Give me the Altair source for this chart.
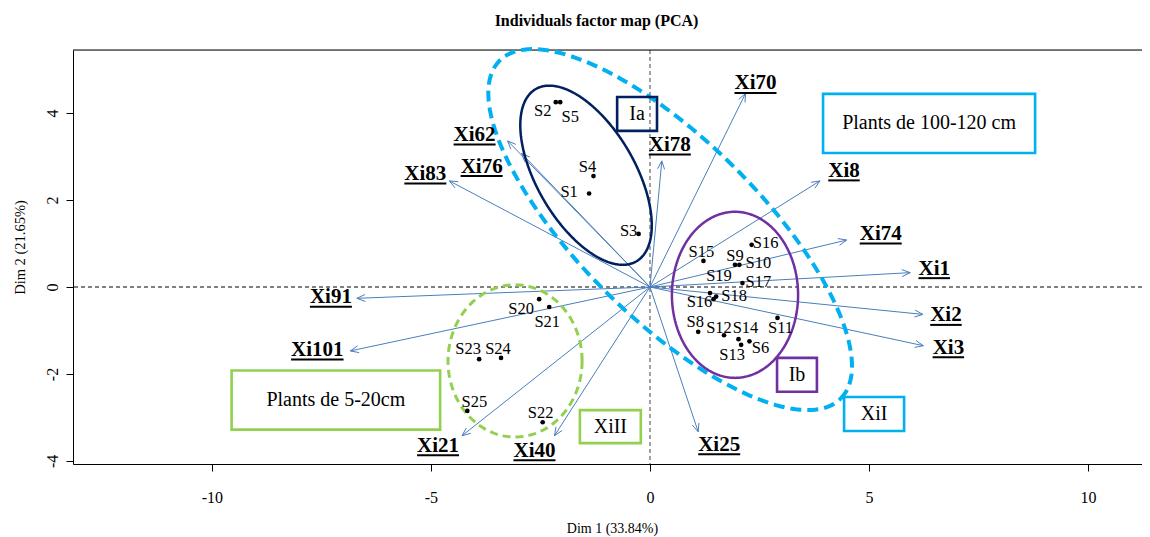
import altair as alt
import pandas as pd

# ---------------- data ----------------
ind_names = ["S1", "S2", "S3", "S4", "S5", "S6", "S8", "S9", "S10", "S11", "S12", "S13",
             "S14", "S15", "S16", "S16", "S17", "S18", "S19", "S20", "S21", "S22", "S23",
             "S24", "S25"]
ind_dim1 = [-1.39, -2.15, -0.26, -1.29, -2.05, 2.27, 1.10, 1.94, 2.04, 2.91, 1.69, 2.08,
            2.02, 1.22, 2.32, 1.45, 2.11, 1.51, 1.37, -2.53, -2.30, -2.45, -3.90,
            -3.40, -4.17]
ind_dim2 = [2.15, 4.25, 1.22, 2.55, 4.25, -1.25, -1.03, 0.51, 0.51, -0.71, -1.11, -1.33,
            -1.20, 0.60, 0.97, -0.28, 0.09, -0.22, -0.14, -0.28, -0.46, -3.11, -1.66,
            -1.63, -2.85]

var_names = ["Xi70", "Xi8", "Xi74", "Xi1", "Xi2", "Xi3", "Xi25", "Xi40", "Xi21", "Xi101",
             "Xi91", "Xi83", "Xi62", "Xi76", "Xi78"]
var_dim1 = [2.18, 3.88, 4.49, 5.94, 6.23, 6.24, 1.10, -2.18, -4.29, -6.84, -6.69, -4.58,
            -3.25, -2.93, 0.27]
var_dim2 = [4.45, 2.44, 1.08, 0.33, -0.63, -1.35, -3.33, -3.42, -3.42, -1.47, -0.26, 2.44,
            3.36, 3.07, 2.90]

ell_names = ["XiI", "Ia", "Ib", "XiII"]
ell_cx = [0.46, -1.46, 1.94, -3.08]
ell_cy = [1.32, 2.57, -0.18, -1.70]
ell_a = [5.50, 2.29, 1.44, 1.53]
ell_b = [2.05, 1.12, 1.91, 1.75]
ell_angle = [-45.0, -60.0, 0.0, 0.0]

box_labels = ["Ia", "Plants de 100-120 cm", "Ib", "XiI", "Plants de 5-20cm", "XiII"]
box_x1 = [-0.75, 3.95, 2.90, 4.43, -9.55, -1.60]
box_x2 = [0.16, 8.79, 3.81, 5.80, -4.79, -0.21]
box_y1 = [3.59, 3.08, -2.41, -3.31, -3.28, -3.59]
box_y2 = [4.37, 4.44, -1.63, -2.53, -1.92, -2.83]

# ---------------- layout / style ----------------
W, H = 1069, 414
XMIN, XMAX = -13.17, 11.23
YMIN, YMAX = -4.07, 5.45
PX_X = W / (XMAX - XMIN)
PX_Y = H / (YMAX - YMIN)
FONT = "Liberation Serif"

# label offsets in pixels (dx right, dy down) from the point to the label baseline centre
ind_label_off = [(-20, 3), (-13, 14), (-10, 2), (-6, -4), (10, 20), (11, 12), (-3, -5),
                 (0, -4), (19, 3), (3, 15), (-5, -2), (-9, 15), (7, -6), (-2, -4),
                 (14, 3), (-14, 8), (16, 4), (18, 4), (9, -12), (-18, 15), (-2, 20),
                 (-2, -4), (-11, -5), (-3, -4), (7, -4)]
var_label_off = [(10, -4), (24, -4), (34, 0), (24, 2), (23, 7), (25, 8), (21, 19),
                 (-20, 21), (-24, 16), (-33, 5), (-26, 5), (-24, -1), (-33, 0),
                 (-40, 19), (8, -10)]
VAR_FS = 21
IND_FS = 16.5
ell_colors = ["#00B0F0", "#002060", "#7030A0", "#92D050"]
ell_dash = [[11, 6], [1, 0], [1, 0], [8, 5]]
ell_width = [4, 2.5, 2.5, 3]
box_colors = ["#002060", "#00B0F0", "#7030A0", "#00B0F0", "#92D050", "#92D050"]
ARROW = "#4A7EBB"

# ---------------- tables ----------------
ind = pd.DataFrame({"name": ind_names, "x": ind_dim1, "y": ind_dim2})
ind["lx"] = [x + o[0] / PX_X for x, o in zip(ind_dim1, ind_label_off)]
ind["ly"] = [y - o[1] / PX_Y for y, o in zip(ind_dim2, ind_label_off)]

var = pd.DataFrame({"name": var_names, "x": var_dim1, "y": var_dim2})
var["ox"] = 0.0
var["oy"] = 0.0
var["lx"] = [x + o[0] / PX_X for x, o in zip(var_dim1, var_label_off)]
var["ly"] = [y - o[1] / PX_Y for y, o in zip(var_dim2, var_label_off)]
wid = [(1.0 + 0.5 * (len(n) - 2)) * VAR_FS for n in var_names]
var["ux1"] = [lx - w / 2 / PX_X for lx, w in zip(var["lx"], wid)]
var["ux2"] = [lx + w / 2 / PX_X for lx, w in zip(var["lx"], wid)]
var["uy"] = [ly - 3.5 / PX_Y for ly in var["ly"]]

boxes = pd.DataFrame({"label": box_labels, "x1": box_x1, "x2": box_x2,
                      "y1": box_y1, "y2": box_y2, "color": box_colors})
boxes["mx"] = (boxes["x1"] + boxes["x2"]) / 2
boxes["my"] = (boxes["y1"] + boxes["y2"]) / 2

# ---------------- encodings ----------------
xscale = alt.Scale(domain=[XMIN, XMAX], nice=False, zero=False)
yscale = alt.Scale(domain=[YMIN, YMAX], nice=False, zero=False)
xaxis = alt.Axis(values=[-10, -5, 0, 5, 10], grid=False, tickSize=7, labelFont=FONT,
                 labelFontSize=16, labelBaseline="alphabetic", labelPadding=31,
                 labelExpr="toString(datum.value)",
                 titleFont=FONT, titleFontSize=14, titleFontWeight="normal",
                 titleBaseline="alphabetic", titleX=539, titleY=68, titleAlign="center",
                 domainColor="black", tickColor="black", labelColor="black",
                 titleColor="black")
yaxis = alt.Axis(values=[-4, -2, 0, 2, 4], grid=False, tickSize=7, labelFont=FONT,
                 labelFontSize=16, labelAngle=270, labelAlign="center",
                 labelBaseline="alphabetic", labelPadding=9,
                 labelExpr="toString(datum.value)",
                 titleFont=FONT, titleFontSize=14.5, titleFontWeight="normal",
                 titleAngle=270, titleBaseline="alphabetic", titleAlign="center",
                 titleX=-49, titleY=197,
                 domainColor="black", tickColor="black", labelColor="black",
                 titleColor="black")


def X(f):
    return alt.X(f"{f}:Q", scale=xscale, axis=xaxis, title="Dim 1 (33.84%)")


def Y(f):
    return alt.Y(f"{f}:Q", scale=yscale, axis=yaxis, title="Dim 2 (21.65%)")


layers = []

zero = pd.DataFrame({"v": [0.0]})
layers.append(alt.Chart(zero).mark_rule(color="black", strokeDash=[4, 3], strokeWidth=1)
              .encode(y=Y("v")))
layers.append(alt.Chart(zero).mark_rule(color="#444444", strokeDash=[4, 3], strokeWidth=1)
              .encode(x=X("v")))

# top frame line
layers.append(alt.Chart(zero).mark_rule(color="black", strokeWidth=1)
              .encode(x=alt.value(0), x2=alt.value(W), y=alt.value(0)))

# arrows
base_var = alt.Chart(var)
layers.append(base_var.mark_rule(color=ARROW, strokeWidth=1)
              .encode(x=X("ox"), y=Y("oy"), x2=alt.X2("x:Q"), y2=alt.Y2("y:Q")))
L = 9.0 / PX_X
TH = 0.40
for sgn in (1, -1):
    layers.append(
        base_var.transform_calculate(
            ang="atan2(datum.y, datum.x)"
        ).transform_calculate(
            hx=f"datum.x - {L}*cos(datum.ang + ({sgn * TH}))",
            hy=f"datum.y - {L}*sin(datum.ang + ({sgn * TH}))",
        ).mark_rule(color=ARROW, strokeWidth=1)
        .encode(x=X("x"), y=Y("y"), x2=alt.X2("hx:Q"), y2=alt.Y2("hy:Q"))
    )

# ellipses
for i in range(len(ell_names)):
    cx, cy, a, b, ang = ell_cx[i], ell_cy[i], ell_a[i], ell_b[i], ell_angle[i]
    layers.append(
        alt.Chart(alt.sequence(0, 362, 2, as_="t"))
        .transform_calculate(
            r="datum.t*PI/180",
            th=f"{ang}*PI/180",
        ).transform_calculate(
            ex=f"{cx} + {a}*cos(datum.r)*cos(datum.th) - {b}*sin(datum.r)*sin(datum.th)",
            ey=f"{cy} + {a}*cos(datum.r)*sin(datum.th) + {b}*sin(datum.r)*cos(datum.th)",
        )
        .mark_line(color=ell_colors[i], strokeWidth=ell_width[i], strokeDash=ell_dash[i])
        .encode(x=X("ex"), y=Y("ey"), order="t:Q")
    )

# boxes
layers.append(alt.Chart(boxes).mark_rect(fill="white", fillOpacity=0, strokeWidth=2.6)
              .encode(x=X("x1"), x2=alt.X2("x2:Q"), y=Y("y1"), y2=alt.Y2("y2:Q"),
                      stroke=alt.Stroke("color:N", scale=None)))
layers.append(alt.Chart(boxes).mark_text(font=FONT, fontSize=20, color="black",
                                         align="center", baseline="middle")
              .encode(x=X("mx"), y=Y("my"), text="label:N"))

# individuals
layers.append(alt.Chart(ind).mark_circle(size=22, color="black", opacity=1)
              .encode(x=X("x"), y=Y("y")))
layers.append(alt.Chart(ind).mark_text(font=FONT, fontSize=IND_FS, color="black",
                                       align="center", baseline="alphabetic")
              .encode(x=X("lx"), y=Y("ly"), text="name:N"))

# variable labels (bold, underlined)
layers.append(base_var.mark_text(font=FONT, fontSize=VAR_FS, fontWeight="bold",
                                 color="black", align="center", baseline="alphabetic")
              .encode(x=X("lx"), y=Y("ly"), text="name:N"))
layers.append(base_var.mark_rule(color="black", strokeWidth=2)
              .encode(x=X("ux1"), x2=alt.X2("ux2:Q"), y=Y("uy")))

chart = alt.layer(*layers).properties(
    width=W, height=H,
    title=alt.TitleParams("Individuals factor map (PCA)", font=FONT, fontSize=16,
                          fontWeight="bold", color="black", anchor="middle", dx=-11,
                          offset=12),
    autosize=alt.AutoSizeParams(type="none"),
    padding={"left": 65, "top": 42, "right": 0, "bottom": 72},
).configure_view(stroke=None).configure(font=FONT)

chart.save("out.html", embed_options={"renderer": "svg", "actions": False})
